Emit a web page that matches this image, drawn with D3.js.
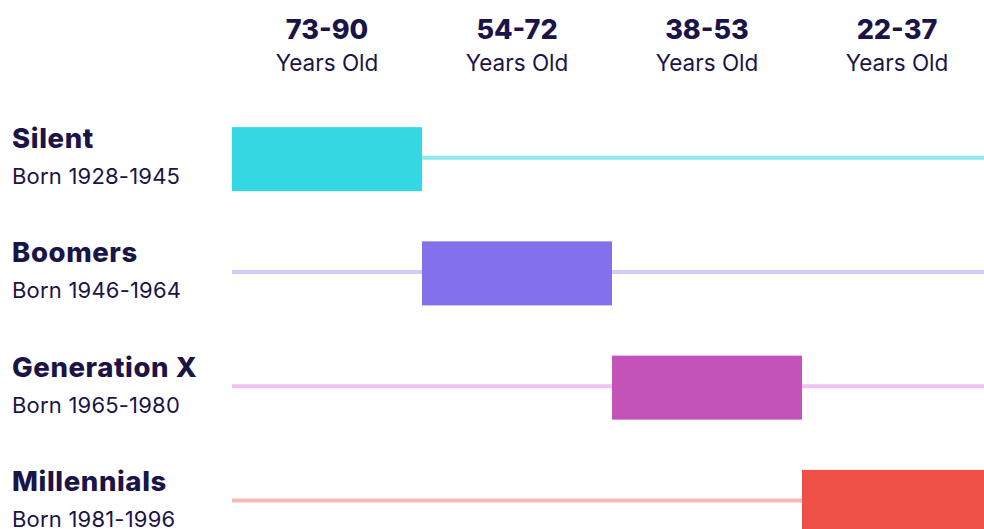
<!DOCTYPE html>
<html>
<head>
    <title>Generations</title>
    <script src="https://d3js.org/d3.v7.min.js"></script>
    <style>
        body { margin: 0; background: #fff; }
        text { font-family: Inter, "Open Sans", sans-serif; fill: #1b1447; }
    </style>
</head>
<body>
    <svg id="chart"></svg>
    <script>
        // chart data
        const ageGroups = ["73-90", "54-72", "38-53", "22-37"];
        const generations = ["Silent", "Boomers", "Generation X", "Millennials"];
        const bornRanges = ["Born 1928-1945", "Born 1946-1964", "Born 1965-1980", "Born 1981-1996"];
        const genAge = ["73-90", "54-72", "38-53", "22-37"];
        const barColors = ["#34d8e3", "#8271eb", "#c352b9", "#ee4f47"];
        const lineColors = ["#8fe9ef", "#d3cbf6", "#efc2f1", "#f9b9b3"];

        const width = 984;
        const height = 529;

        const svg = d3.select("#chart")
            .attr("width", width)
            .attr("height", height);

        const x = d3.scaleBand()
            .domain(ageGroups)
            .range([232, 992]);

        const y = d3.scaleBand()
            .domain(generations)
            .range([102, 559]);

        const rectH = 64;

        // column headers
        const head = svg.append("g")
            .selectAll("g")
            .data(ageGroups)
            .join("g")
            .attr("transform", d => `translate(${x(d) + x.bandwidth() / 2},0)`);

        head.append("text")
            .attr("y", 39)
            .attr("text-anchor", "middle")
            .style("font-size", "27px")
            .style("font-weight", 800)
            .text(d => d);

        head.append("text")
            .attr("y", 71)
            .attr("text-anchor", "middle")
            .style("font-size", "22.5px")
            .text("Years Old");

        // rows
        const row = svg.append("g")
            .selectAll("g")
            .data(generations)
            .join("g")
            .attr("transform", d => `translate(0,${y(d) + y.bandwidth() / 2})`);

        row.append("line")
            .attr("x1", 232)
            .attr("x2", width)
            .attr("y1", -1.5)
            .attr("y2", -1.5)
            .attr("stroke", (d, i) => lineColors[i])
            .attr("stroke-width", 4);

        row.append("rect")
            .attr("x", (d, i) => x(genAge[i]))
            .attr("y", -rectH / 2)
            .attr("width", x.bandwidth())
            .attr("height", rectH)
            .attr("fill", (d, i) => barColors[i]);

        row.append("text")
            .attr("x", 12)
            .attr("y", -11)
            .style("font-size", "27.5px")
            .style("font-weight", 800)
            .style("letter-spacing", "0.6px")
            .text(d => d);

        row.append("text")
            .attr("x", 12)
            .attr("y", 25)
            .style("font-size", "22px")
            .style("letter-spacing", "0.2px")
            .text((d, i) => bornRanges[i]);
    </script>
</body>
</html>
